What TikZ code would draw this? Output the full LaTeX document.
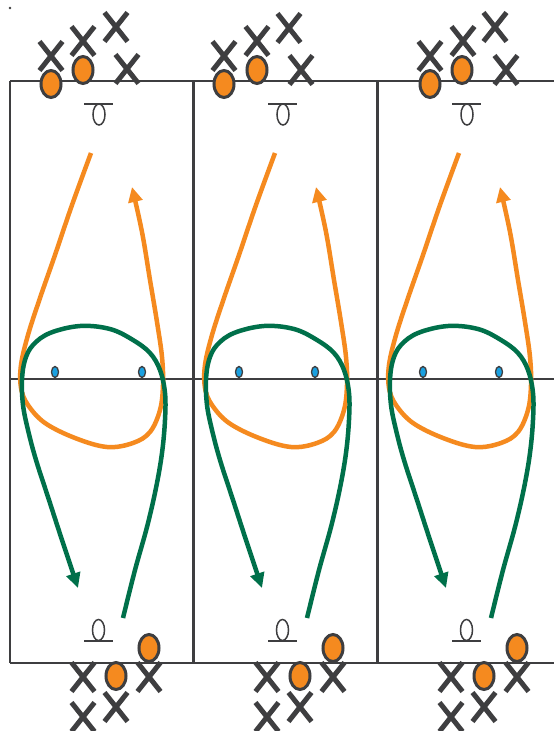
\documentclass[tikz,border=0pt]{standalone}
\usetikzlibrary{shapes.geometric,shapes.misc,arrows.meta}
\definecolor{courtgray}{HTML}{3E3E40}
\definecolor{playorange}{HTML}{F58A1F}
\definecolor{playgreen}{HTML}{00704A}
\definecolor{dotblue}{HTML}{1AA0E0}
\tikzset{
  courtline/.style={draw=courtgray, line width=2.2pt},
  rimline/.style={draw=courtgray, line width=1.5pt},
  rim/.style={ellipse, draw=courtgray, line width=1.5pt, minimum width=12pt, minimum height=21pt, inner sep=0pt},
  offense/.style={ellipse, draw=courtgray, fill=playorange, line width=3pt, minimum width=20pt, minimum height=27pt, inner sep=0pt},
  defense/.style={cross out, draw=courtgray, line width=5pt, minimum width=18pt, minimum height=24pt, inner sep=0pt},
  bluedot/.style={ellipse, draw=courtgray, fill=dotblue, line width=1.3pt, minimum width=7pt, minimum height=11pt, inner sep=0pt},
  orangeroute/.style={draw=playorange, line width=4.5pt, -{Triangle[length=15pt,width=14pt]}},
  greenroute/.style={draw=playgreen, line width=4.5pt, -{Triangle[length=15pt,width=14pt]}},
}
\begin{document}
\begin{tikzpicture}[x=1pt,y=-1pt]
\clip (0,0) rectangle (554,731);
\fill[white] (0,0) rectangle (554,731);
% court
\draw[courtline] (10,81) -- (561,81);
\draw[courtline] (10,663) -- (561,663);
\draw[courtline] (10,379) -- (561,379);
\foreach \bx in {10,193.5,377.5,561} {
  \draw[courtline] (\bx,81) -- (\bx,663);
}
\fill[courtgray] (10,8) circle[radius=1.3pt];
% routes, rims, bottom players (same in every panel)
\foreach \s [count=\k] in {0,184,368} {
  \begin{scope}[xshift=\s pt]
    \draw[orangeroute] plot[smooth, tension=0.6] coordinates {(91,153) (72,205) (55,255) (40,298) (28,335) (21,365) (21,388) (28,405) (45,423) (75,438) (107,447) (133,443) (150,432) (160,410) (163,385) (162,357) (157,322) (150,280) (142,232) (132,187)};
    \draw[greenroute] plot[smooth, tension=0.6] coordinates {(123,618) (135,570) (147,527) (156,488) (162,453) (165,420) (165,393) (160,370) (150,353) (133,340) (110,329) (80,326) (50,333) (33,345) (25,360) (22,380) (23,405) (28,430) (36,460) (49,500) (62,540) (78,588)};
    % top rim
    \coordinate (tl\k) at (84,104);
    \coordinate (tr\k) at (113,104);
    \draw[rimline] (tl\k) -- (tr\k);
    \node[rim] (toprim\k) at (99,114.5) {};
    % bottom rim
    \coordinate (bl\k) at (84,641);
    \coordinate (br\k) at (113,641);
    \draw[rimline] (bl\k) -- (br\k);
    \node[rim] (botrim\k) at (98.5,630) {};
    % bottom players
    \node[defense] (bxa\k) at (83,677) {};
    \node[defense] (bxb\k) at (149,677) {};
    \node[defense] (bxc\k) at (116,707) {};
    \node[defense] (bxd\k) at (83,717) {};
    \node[offense] (boa\k) at (149,648) {};
    \node[offense] (bob\k) at (116,676) {};
  \end{scope}
}
% blue dots
\node[bluedot] (dot1a) at (55,372) {};
\node[bluedot] (dot1b) at (142,372) {};
\node[bluedot] (dot2a) at (239,372) {};
\node[bluedot] (dot2b) at (315,372) {};
\node[bluedot] (dot3a) at (423,372) {};
\node[bluedot] (dot3b) at (499,372) {};
% top players panel 1
\node[defense] (tx1a) at (51,56) {};
\node[defense] (tx1b) at (83,41) {};
\node[defense] (tx1c) at (116,27) {};
\node[defense] (tx1d) at (127,69) {};
\node[offense] (to1a) at (51,84) {};
\node[offense] (to1b) at (83,70) {};
% top players panel 2
\node[defense] (tx2a) at (224,56) {};
\node[defense] (tx2b) at (257,41) {};
\node[defense] (tx2c) at (289,28) {};
\node[defense] (tx2d) at (301,70) {};
\node[offense] (to2a) at (224,84) {};
\node[offense] (to2b) at (257,70) {};
% top players panel 3
\node[defense] (tx3a) at (430,56) {};
\node[defense] (tx3b) at (463,41) {};
\node[defense] (tx3c) at (495,27) {};
\node[defense] (tx3d) at (506,70) {};
\node[offense] (to3a) at (430,84) {};
\node[offense] (to3b) at (462,70) {};
\end{tikzpicture}
\end{document}
